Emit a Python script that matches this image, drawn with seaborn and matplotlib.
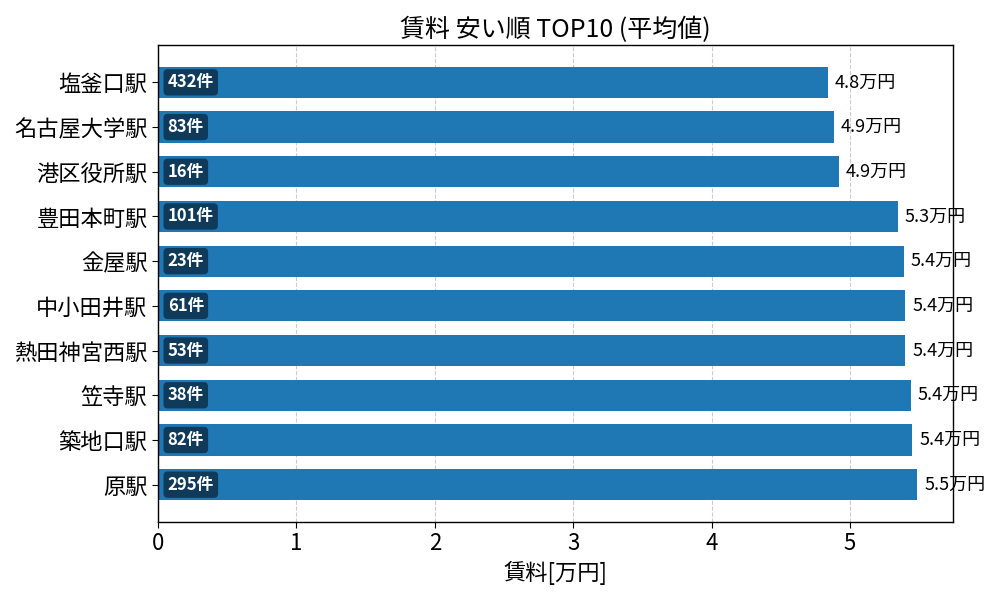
import matplotlib
matplotlib.use("Agg")
import matplotlib.pyplot as plt
import seaborn as sns
import pandas as pd

stations = ["塩釜口駅", "名古屋大学駅", "港区役所駅", "豊田本町駅", "金屋駅",
            "中小田井駅", "熱田神宮西駅", "笠寺駅", "築地口駅", "原駅"]
rent = [4.842, 4.884, 4.92, 5.347, 5.39, 5.398, 5.398, 5.44, 5.449, 5.485]
counts = [432, 83, 16, 101, 23, 61, 53, 38, 82, 295]

sns.set_style("white")
plt.rcParams['font.family'] = ['Noto Sans CJK JP', 'DejaVu Sans']
plt.rcParams['text.color'] = 'black'
plt.rcParams['axes.labelcolor'] = 'black'
plt.rcParams['xtick.color'] = 'black'
plt.rcParams['ytick.color'] = 'black'

df = pd.DataFrame({"station": stations, "rent": rent, "count": counts})

fig, ax = plt.subplots(figsize=(10, 6), dpi=100)
sns.barplot(data=df, y="station", x="rent", color="#1f77b4", saturation=1,
            width=0.7, ax=ax, orient="h", linewidth=0, edgecolor="none")

ax.set_xlim(0, 5.744)
ax.set_ylim(len(stations) - 1 + 0.835, -0.835)
ax.grid(axis="x", linestyle="--", color="#cccccc", linewidth=0.8)
ax.set_axisbelow(True)
for s in ax.spines.values():
    s.set_visible(True)
    s.set_color("black")
    s.set_linewidth(1)

for i, (v, c) in enumerate(zip(rent, counts)):
    ax.text(v + 0.05, i, f"{v:.1f}万円", va="center", ha="left", fontsize=13,
            color="black")
    ax.text(0.07, i, f"{c}件", va="center", ha="left", fontsize=12,
            color="white", fontweight="bold",
            bbox=dict(boxstyle="round,pad=0.25", facecolor="#0f3a5a",
                      edgecolor="none"))

ax.set_title("賃料 安い順 TOP10 (平均値)", fontsize=18)
ax.set_xlabel("賃料[万円]", fontsize=16)
ax.set_ylabel("")
ax.tick_params(axis="y", labelsize=16, length=4, left=True)
ax.tick_params(axis="x", labelsize=16, length=4, bottom=True)

fig.subplots_adjust(left=0.158, right=0.953, top=0.925, bottom=0.13)
fig.savefig("out.png", dpi=100)
